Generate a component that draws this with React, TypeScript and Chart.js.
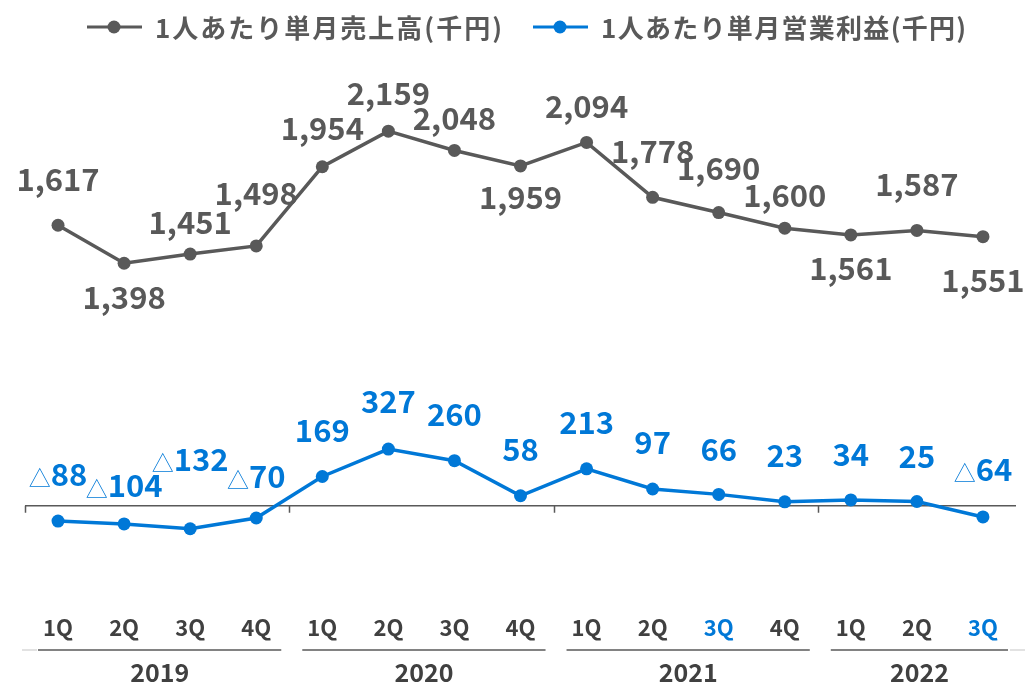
import React, { useEffect, useRef } from 'react';
import { Chart, registerables } from 'chart.js';

Chart.register(...registerables);

const quarters = ['1Q', '2Q', '3Q', '4Q', '1Q', '2Q', '3Q', '4Q', '1Q', '2Q', '3Q', '4Q', '1Q', '2Q', '3Q'];
const years = ['2019', '2020', '2021', '2022'];
const quartersPerYear = [4, 4, 4, 3];
const salesPerPerson = [1617, 1398, 1451, 1498, 1954, 2159, 2048, 1959, 2094, 1778, 1690, 1600, 1561, 1587, 1551];
const profitPerPerson = [-88, -104, -132, -70, 169, 327, 260, 58, 213, 97, 66, 23, 34, 25, -64];
const highlightedQuarters = [10, 14];
const seriesNames = ['1人あたり単月売上高(千円)', '1人あたり単月営業利益(千円)'];

// label vertical offsets (style only)
const salesLabelDy = [-46, 34, -31, -52, -38, -37, -32, 32, -36, -46, -44, -32, 34, -46, 44];
const profitLabelDy = [-46, -38, -69, -41, -46, -47, -46, -46, -46, -46, -45, -46, -45, -45, -47];

const GRAY = '#595959';
const BLUE = '#0078D7';
const DARK = '#404040';
const FONT = '"Noto Sans CJK JP", "Noto Sans", sans-serif';

const fmt = (v: number) => Math.abs(v).toLocaleString('en-US');

const legendPlugin = {
  id: 'customLegend',
  afterDraw(chart: any) {
    const ctx = chart.ctx;
    const starts = [87, 533];
    const spacing = ['2px', '1.3px'];
    const cy = 27;
    ctx.save();
    chart.data.datasets.forEach((ds: any, i: number) => {
      const x0 = starts[i];
      ctx.strokeStyle = ds.borderColor;
      ctx.lineWidth = 3;
      ctx.beginPath();
      ctx.moveTo(x0, cy);
      ctx.lineTo(x0 + 55, cy);
      ctx.stroke();
      ctx.fillStyle = ds.borderColor;
      ctx.beginPath();
      ctx.arc(x0 + 27, cy, 6.5, 0, Math.PI * 2);
      ctx.fill();
      ctx.fillStyle = GRAY;
      ctx.font = `bold 26px ${FONT}`;
      (ctx as any).letterSpacing = spacing[i];
      ctx.textBaseline = 'middle';
      ctx.textAlign = 'left';
      ctx.fillText(ds.label, x0 + 68, cy + 1);
    });
    ctx.restore();
  },
};

const zeroAxisPlugin = {
  id: 'zeroAxis',
  beforeDatasetsDraw(chart: any) {
    const { ctx, chartArea, scales } = chart;
    const x = scales.x;
    const y = scales.y;
    const y0 = y.getPixelForValue(0);
    const half = (x.getPixelForValue(1) - x.getPixelForValue(0)) / 2;
    ctx.save();
    ctx.strokeStyle = GRAY;
    ctx.lineWidth = 1.5;
    ctx.beginPath();
    ctx.moveTo(chartArea.left, y0);
    ctx.lineTo(chartArea.right, y0);
    let idx = 0;
    quartersPerYear.forEach((n) => {
      const bx = Math.round(x.getPixelForValue(idx) - half) + 0.5;
      ctx.moveTo(bx, y0);
      ctx.lineTo(bx, y0 + 7);
      idx += n;
    });
    ctx.stroke();
    ctx.restore();
  },
};

const yearPlugin = {
  id: 'yearGroups',
  afterDraw(chart: any) {
    const { ctx, scales, width, height } = chart;
    const x = scales.x;
    const half = (x.getPixelForValue(1) - x.getPixelForValue(0)) / 2;
    const lineY = height - 35;
    const textY = height - 13;
    ctx.save();
    ctx.strokeStyle = '#d9d9d9';
    ctx.lineWidth = 1.5;
    ctx.beginPath();
    ctx.moveTo(x.left - 3, lineY);
    ctx.lineTo(x.left + 12, lineY);
    ctx.moveTo(x.right - 6, lineY);
    ctx.lineTo(width, lineY);
    ctx.stroke();
    let idx = 0;
    years.forEach((yr, i) => {
      const n = quartersPerYear[i];
      const gl = x.getPixelForValue(idx) - half;
      const gr = x.getPixelForValue(idx + n - 1) + half;
      const l = gl + 13;
      const r = gr - 8;
      ctx.strokeStyle = GRAY;
      ctx.beginPath();
      ctx.moveTo(l, lineY);
      ctx.lineTo(r, lineY);
      ctx.stroke();
      ctx.fillStyle = DARK;
      ctx.font = `bold 25px ${FONT}`;
      ctx.textAlign = 'center';
      ctx.textBaseline = 'middle';
      ctx.fillText(yr, (l + r) / 2, textY);
      idx += n;
    });
    ctx.restore();
  },
};

const dataLabelPlugin = {
  id: 'pointLabels',
  afterDatasetsDraw(chart: any) {
    const ctx = chart.ctx;
    const size = 31;
    const capH = size * 0.73;
    const offsets = [salesLabelDy, profitLabelDy];
    ctx.save();
    chart.data.datasets.forEach((ds: any, di: number) => {
      const meta = chart.getDatasetMeta(di);
      meta.data.forEach((pt: any, i: number) => {
        const v = ds.data[i] as number;
        const cx = pt.x;
        const base = pt.y + offsets[di][i] + capH / 2;
        ctx.fillStyle = ds.borderColor;
        ctx.textBaseline = 'alphabetic';
        const num = fmt(v);
        ctx.font = `bold ${size}px ${FONT}`;
        const wNum = ctx.measureText(num).width;
        if (v < 0) {
          const triFont = `300 22px ${FONT}`;
          ctx.font = triFont;
          const wTri = ctx.measureText('△').width;
          const total = wTri + wNum;
          const left = cx - total / 2;
          ctx.textAlign = 'left';
          ctx.fillText('△', left, base);
          ctx.font = `bold ${size}px ${FONT}`;
          ctx.fillText(num, left + wTri, base);
        } else {
          ctx.textAlign = 'center';
          ctx.fillText(num, cx, base);
        }
      });
    });
    ctx.restore();
  },
};

export default function App() {
  const ref = useRef<HTMLCanvasElement | null>(null);
  useEffect(() => {
    document.body.style.margin = '0';
    const canvas = ref.current;
    if (!canvas) return;
    const chart = new Chart(canvas, {
      type: 'line',
      data: {
        labels: quarters,
        datasets: [
          {
            label: seriesNames[0],
            data: salesPerPerson,
            borderColor: GRAY,
            backgroundColor: GRAY,
            borderWidth: 3.5,
            pointRadius: 6.5,
            pointHoverRadius: 6.5,
            pointBackgroundColor: GRAY,
            pointBorderWidth: 0,
            tension: 0,
          },
          {
            label: seriesNames[1],
            data: profitPerPerson,
            borderColor: BLUE,
            backgroundColor: BLUE,
            borderWidth: 3.5,
            pointRadius: 6.5,
            pointHoverRadius: 6.5,
            pointBackgroundColor: BLUE,
            pointBorderWidth: 0,
            tension: 0,
          },
        ],
      },
      options: {
        animation: false,
        responsive: true,
        maintainAspectRatio: false,
        layout: { padding: { top: 72, left: 25, right: 9, bottom: 22 } },
        plugins: {
          legend: { display: false },
          tooltip: { enabled: false },
        },
        scales: {
          x: {
            offset: true,
            grid: { display: false, drawTicks: false },
            border: { display: false },
            ticks: {
              autoSkip: false,
              maxRotation: 0,
              padding: 22,
              font: { family: FONT, size: 22, weight: 'bold', lineHeight: 1.2 },
              color: (c: any) => (highlightedQuarters.includes(c.index) ? BLUE : DARK),
            },
          },
          y: {
            display: false,
            min: -500,
            max: 2500,
          },
        },
      },
      plugins: [zeroAxisPlugin, dataLabelPlugin, yearPlugin, legendPlugin],
    });
    return () => chart.destroy();
  }, []);
  return (
    <div style={{ width: 1025, height: 685, position: 'relative' }}>
      <canvas ref={ref} />
    </div>
  );
}
